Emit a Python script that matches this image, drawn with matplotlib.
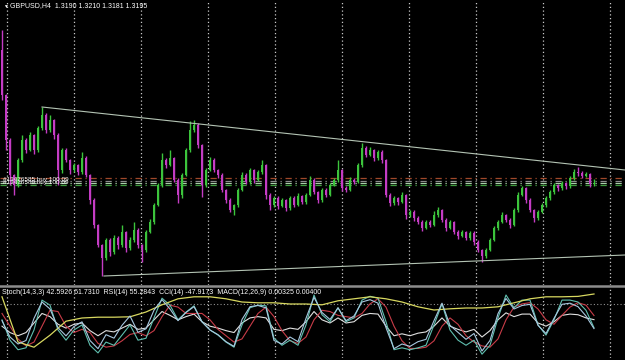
import numpy as np
import matplotlib
matplotlib.use('Agg')
import matplotlib.pyplot as plt
from matplotlib.lines import Line2D

plt.rcParams['font.family'] = ['Liberation Sans', 'DejaVu Sans']

#=========================
# GBPUSD H4 candles
#=========================
symbol = 'GBPUSD,H4'
first_open = 1.3727
closes = [1.3547, 1.3367, 1.3227, 1.3187, 1.3287, 1.3367, 1.3327, 1.3387, 1.3327, 1.3415,
          1.3467, 1.3407, 1.3447, 1.3387, 1.3247, 1.3327, 1.3287, 1.3247, 1.3267, 1.3239,
          1.3295, 1.3227, 1.3127, 1.3027, 1.2947, 1.2895, 1.2967, 1.2919, 1.2975, 1.2947,
          1.2999, 1.2935, 1.2967, 1.3007, 1.2947, 1.2927, 1.2999, 1.3039, 1.3107, 1.3187,
          1.3287, 1.3267, 1.3295, 1.3207, 1.3147, 1.3227, 1.3327, 1.3407, 1.3427, 1.3347,
          1.3187, 1.3247, 1.3287, 1.3247, 1.3227, 1.3167, 1.3127, 1.3087, 1.3107, 1.3167,
          1.3227, 1.3199, 1.3247, 1.3207, 1.3239, 1.3267, 1.3147, 1.3107, 1.3135, 1.3103,
          1.3127, 1.3095, 1.3135, 1.3107, 1.3143, 1.3119, 1.3147, 1.3207, 1.3159, 1.3127,
          1.3167, 1.3147, 1.3187, 1.3207, 1.3247, 1.3175, 1.3167, 1.3207, 1.3199, 1.3267,
          1.3335, 1.3307, 1.3327, 1.3295, 1.3319, 1.3287, 1.3147, 1.3115, 1.3135, 1.3119,
          1.3147, 1.3067, 1.3079, 1.3055, 1.3039, 1.3015, 1.3039, 1.3027, 1.3067, 1.3087,
          1.3047, 1.3015, 1.3039, 1.2999, 1.2983, 1.2999, 1.2975, 1.2995, 1.2959, 1.2927,
          1.2903, 1.2927, 1.2967, 1.3015, 1.3039, 1.3067, 1.3047, 1.3027, 1.3087, 1.3147,
          1.3175, 1.3127, 1.3087, 1.3055, 1.3079, 1.3107, 1.3135, 1.3159, 1.3187, 1.3175,
          1.3195, 1.3183, 1.3215, 1.3239, 1.3235, 1.3223, 1.3231, 1.3190, 1.3195]
# wick lengths above / below the body, in pips
up_wick = [80, 6, 8, 6, 8, 20, 10, 12, 6, 10,
           32, 8, 20, 6, 8, 10, 8, 6, 10, 6,
           24, 8, 6, 8, 6, 6, 8, 10, 12, 8,
           28, 6, 12, 32, 8, 6, 10, 12, 8, 10,
           28, 8, 32, 6, 8, 10, 8, 36, 20, 10,
           6, 10, 12, 8, 6, 10, 6, 8, 6, 10,
           12, 8, 10, 6, 8, 20, 6, 8, 10, 8,
           10, 6, 10, 8, 12, 6, 10, 14, 8, 6,
           10, 8, 10, 8, 40, 6, 8, 12, 8, 10,
           20, 8, 12, 6, 10, 8, 6, 8, 10, 6,
           12, 6, 10, 8, 6, 8, 10, 8, 14, 12,
           6, 8, 10, 6, 8, 10, 6, 10, 6, 8,
           6, 10, 8, 10, 8, 12, 6, 8, 10, 12,
           10, 6, 8, 6, 10, 8, 10, 8, 10, 6,
           10, 6, 10, 12, 20, 8, 10, 6, 15]
dn_wick = [20, 40, 40, 40, 10, 8, 12, 6, 14, 8,
           8, 12, 10, 16, 60, 12, 10, 16, 8, 12,
           8, 10, 14, 12, 10, 72, 10, 14, 8, 16,
           8, 18, 10, 8, 12, 48, 8, 6, 10, 6,
           8, 12, 6, 10, 32, 12, 6, 10, 8, 12,
           48, 8, 6, 10, 12, 8, 12, 10, 20, 8,
           6, 10, 8, 12, 6, 8, 14, 20, 8, 12,
           6, 12, 8, 10, 6, 10, 8, 6, 10, 12,
           8, 10, 6, 6, 8, 12, 10, 6, 10, 6,
           8, 10, 6, 10, 8, 12, 10, 14, 8, 12,
           6, 14, 8, 12, 10, 12, 6, 10, 6, 8,
           10, 12, 6, 10, 12, 6, 10, 8, 12, 10,
           24, 8, 6, 6, 8, 6, 10, 12, 6, 8,
           6, 12, 10, 16, 8, 6, 8, 6, 8, 10,
           8, 12, 8, 6, 10, 10, 6, 10, 9]

# triangle trendlines (bar index, price)
upper_line_bars = [10, 155.75]
upper_line_prices = [1.3499, 1.3247]
lower_line_bars = [25.5, 155.75]
lower_line_prices = [1.2823, 1.2907]

# order lines
order_prices = [1.3215, 1.3203, 1.3195, 1.3187]
order_colors = ['#a0482a', '#8a8a8a', '#a8d0a8', '#3c9c3c']
order_labels = ['#13476585 buy 100.09', '#13476589 buy 100.09']

#=========================
# indicator window
#=========================
stoch_main = [55, 23, 8, 11, 39, 86, 78, 39, 23, 39,
              47, 15, 3, 20, 15, 31, 47, 23, 26, 58,
              89, 78, 55, 67, 77, 52, 39, 31, 20, 12,
              47, 74, 78, 77, 26, 15, 23, 15, 47, 94,
              63, 52, 74, 52, 58, 86, 92, 89, 52, 8,
              11, 8, 11, 15, 47, 80, 39, 23, 15, 23,
              1, 15, 58, 94, 74, 86, 86, 47, 31, 55,
              86, 86, 83, 70, 42.5926]
stoch_signal = [65, 45, 25, 14, 20, 45, 70, 68, 45, 35,
                40, 35, 18, 12, 14, 22, 32, 35, 30, 38,
                60, 78, 75, 65, 65, 65, 55, 40, 30, 20,
                25, 45, 65, 75, 60, 38, 22, 18, 28, 55,
                70, 68, 62, 60, 58, 65, 80, 88, 75, 45,
                22, 10, 10, 12, 22, 45, 58, 48, 30, 20,
                14, 12, 25, 55, 75, 80, 82, 72, 55, 48,
                62, 75, 82, 78, 61.731]
rsi = [45, 35, 30, 35, 50, 65, 60, 48, 42, 48,
       50, 38, 30, 38, 36, 42, 48, 40, 42, 55,
       68, 62, 55, 60, 64, 52, 45, 42, 38, 35,
       50, 58, 60, 58, 40, 38, 42, 40, 52, 68,
       55, 50, 58, 50, 52, 62, 65, 64, 45, 30,
       33, 30, 34, 36, 45, 58, 45, 40, 36, 40,
       28, 38, 55, 66, 60, 64, 64, 50, 45, 52,
       62, 64, 63, 58, 55.2843]
cci = [20, -120, -180, -150, 40, 180, 120, -40, -110, -30,
       10, -150, -220, -100, -130, -20, 60, -80, -50, 110,
       200, 120, 20, 90, 140, 10, -60, -100, -160, -200,
       30, 140, 150, 130, -150, -180, -120, -160, 40, 220,
       90, 30, 130, 20, 60, 180, 200, 170, -40, -220,
       -180, -200, -160, -140, 20, 170, -20, -80, -140, -90,
       -240, -150, 80, 210, 120, 150, 160, -20, -90, 40,
       160, 170, 140, 60, -47.9173]
macd_signal = [0.0033, -0.0080, -0.0093, -0.0063, -0.0028, -0.0020, -0.0018, -0.0018,
               -0.0017, -0.0005, 0.0013, 0.0028, 0.0033, 0.0033, 0.0028, 0.0020,
               0.0018, 0.0018, 0.0015, 0.0015, 0.0013, 0.0023, 0.0028, 0.0033,
               0.0028, 0.0020, 0.0008, 0.0000, 0.0003, 0.0005, 0.0005, 0.0008,
               0.0018, 0.0028, 0.0033, 0.0033, 0.0034, 0.0040]
macd_main = 0.00325

#=========================
# candles
#=========================
closes = np.array(closes)
opens = np.concatenate([[first_open], closes[:-1]])
highs = np.maximum(opens, closes) + np.array(up_wick) * 0.0001
lows = np.minimum(opens, closes) - np.array(dn_wick) * 0.0001
idx = np.arange(len(closes))
bull = closes >= opens
colors = np.where(bull, '#3cc43c', '#c43cc4')

W, H = 625, 360
fig = plt.figure(figsize=(W / 100, H / 100), dpi=100, facecolor='black')
ax = fig.add_axes([0, 75 / H, 1, 285 / H], facecolor='black')
ax.set_xlim(-0.5, 155.75)
ax.set_ylim(1.2787, 1.3927)
ax.axis('off')

grid_bars = np.arange(1.25, 156, 16.75)
for g in grid_bars:
    ax.axvline(g, color='#c8c8c8', lw=0.9, ls=(0, (1, 2)), zorder=1)

for p, c in zip(order_prices, order_colors):
    ax.axhline(p, color=c, lw=0.9, ls=(0, (5, 3, 1, 3)), zorder=2)

ax.vlines(idx, lows, highs, colors=colors, lw=1.0, zorder=3)
body = np.where(np.abs(closes - opens) < 0.0001, 0.0001, closes - opens)
ax.bar(idx, body, bottom=opens, width=0.6, color=colors, linewidth=0, zorder=4)

ax.plot(upper_line_bars, upper_line_prices, color='#b4c4b4', lw=0.8, zorder=5)
ax.plot(lower_line_bars, lower_line_prices, color='#b4c4b4', lw=0.8, zorder=5)

# the two order labels sit almost on top of each other
ax.text(0.3, 1.3203, '\n'.join(order_labels), color='white', fontsize=4.6,
        va='center', linespacing=0.7, zorder=6)

fig.text(3 / W, 1 - 6 / H, '\u25bc', color='white', fontsize=3.5, va='center')
title = '%s  %.4f %.4f %.4f %.4f' % (symbol, opens[-1], highs[-1], lows[-1], closes[-1])
fig.text(10 / W, 1 - 6 / H, title, color='white', fontsize=5, va='center')

#=========================
# indicators
#=========================
osc_bars = idx[::2]
macd_bars = idx[::4]

ax2 = fig.add_axes([0, 2 / H, 1, 70 / H], facecolor='black')
ax2.set_xlim(-0.5, 155.75)
ax2.set_ylim(-5, 105)
ax2.axis('off')
for g in grid_bars:
    ax2.axvline(g, color='#c8c8c8', lw=0.9, ls=(0, (1, 2)), zorder=1)
ax2.axhline(80, color='#909090', lw=0.8, ls=(0, (1, 2)), zorder=1)

ax4 = ax2.twinx()
ax4.set_ylim(-0.012, 0.0055)
ax4.axis('off')
ax4.plot(macd_bars, macd_signal[:len(macd_bars)], color='#d8d860', lw=0.9)

ax3 = ax2.twinx()
ax3.set_ylim(-300, 300)
ax3.axis('off')
ax3.plot(osc_bars, cci, color='#a8c8e0', lw=0.8)

ax2.plot(osc_bars, rsi, color='#e0e0e0', lw=0.8, zorder=3)
ax2.plot(osc_bars, stoch_signal, color='#c83c48', lw=0.8, zorder=3)
ax2.plot(osc_bars, stoch_main, color='#60c0b0', lw=0.8, zorder=3)

fig.add_artist(Line2D([0, 1], [74 / H, 74 / H], color='#8c8c8c', lw=1.8))

label = ('Stoch(14,3,3) %.4f %.4f  RSI(14) %.4f  CCI(14) %.4f  MACD(12,26,9) %.5f %.5f'
         % (stoch_main[-1], stoch_signal[-1], rsi[-1], cci[-1], macd_main, macd_signal[-1]))
fig.text(2 / W, 1 - 293 / H, label, color='white', fontsize=5, va='center')

plt.savefig('out.png', dpi=100, facecolor='black')
